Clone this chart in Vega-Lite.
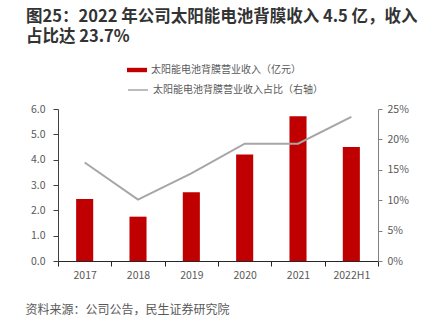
{
  "$schema": "https://vega.github.io/schema/vega-lite/v6.json",
  "width": 320,
  "height": 152,
  "autosize": {"type": "none"},
  "padding": {"left": 58, "top": 109, "right": 59, "bottom": 72},
  "background": "white",
  "config": {
    "view": {"stroke": null},
    "font": "Noto Sans CJK SC",
    "axis": {"labelFont": "Noto Sans CJK SC", "labelColor": "#595959", "labelFontSize": 10.5, "grid": false}
  },
  "title": {
    "text": ["图25：2022 年公司太阳能电池背膜收入 4.5 亿，收入", "占比达 23.7%"],
    "anchor": "start",
    "frame": "group",
    "dx": -32,
    "fontSize": 16.5,
    "lineHeight": 20,
    "fontWeight": "bold",
    "color": "#333333",
    "font": "Noto Sans CJK SC",
    "baseline": "top",
    "offset": 15
  },
  "data": {
    "values": [
      {"year": "2017", "revenue": 2.45, "share": 16.2},
      {"year": "2018", "revenue": 1.75, "share": 10.1},
      {"year": "2019", "revenue": 2.71, "share": 14.4},
      {"year": "2020", "revenue": 4.2, "share": 19.3},
      {"year": "2021", "revenue": 5.71, "share": 19.3},
      {"year": "2022H1", "revenue": 4.5, "share": 23.7}
    ]
  },
  "encoding": {
    "x": {
      "field": "year",
      "type": "ordinal",
      "sort": null,
      "scale": {"paddingInner": 0, "paddingOuter": 0},
      "axis": {
        "labelAngle": 0,
        "title": "资料来源：公司公告，民生证券研究院",
        "titleFont": "Noto Sans CJK SC",
        "titleFontSize": 12,
        "titleFontWeight": "normal",
        "titleColor": "#595959",
        "titleAnchor": "start",
        "titleAlign": "left",
        "titleBaseline": "middle",
        "titleX": -33,
        "titleY": 48,
        "tickBand": "extent",
        "domainColor": "#262626",
        "tickColor": "#262626",
        "tickSize": 5,
        "labelPadding": 4
      }
    }
  },
  "layer": [
    {
      "mark": {"type": "bar", "width": {"band": 0.32}, "color": "#C00000"},
      "encoding": {
        "y": {
          "field": "revenue",
          "type": "quantitative",
          "scale": {"domain": [0, 6]},
          "axis": {
            "title": null,
            "orient": "left",
            "values": [0, 1, 2, 3, 4, 5, 6],
            "format": ".1f",
            "domainColor": "#404040",
            "tickColor": "#404040",
            "tickSize": 5,
            "labelPadding": 8
          }
        },
        "color": {
          "datum": "太阳能电池背膜营业收入（亿元）",
          "scale": {"range": ["#C00000"]},
          "legend": {
            "orient": "none",
            "legendX": 69,
            "legendY": -49,
            "title": null,
            "symbolType": "M-1,-0.22H1V0.22H-1Z",
            "symbolSize": 400,
            "symbolStrokeWidth": 0,
            "labelFontSize": 10,
            "labelColor": "#595959",
            "labelFont": "Noto Sans CJK SC",
            "labelOffset": 4,
            "labelLimit": 400,
            "padding": 0
          }
        }
      }
    },
    {
      "mark": {"type": "line", "color": "#A6A6A6", "strokeWidth": 2},
      "encoding": {
        "y": {
          "field": "share",
          "type": "quantitative",
          "scale": {"domain": [0, 25]},
          "axis": {
            "title": null,
            "orient": "right",
            "values": [0, 5, 10, 15, 20, 25],
            "labelExpr": "datum.value + '%'",
            "domainColor": "#808080",
            "tickColor": "#808080",
            "tickSize": 4,
            "labelPadding": 5
          }
        },
        "stroke": {
          "datum": "太阳能电池背膜营业收入占比（右轴）",
          "scale": {"range": ["#A6A6A6"]},
          "legend": {
            "orient": "none",
            "legendX": 69,
            "legendY": -30,
            "title": null,
            "symbolType": "stroke",
            "symbolSize": 400,
            "symbolStrokeWidth": 1.5,
            "labelFontSize": 10,
            "labelColor": "#595959",
            "labelFont": "Noto Sans CJK SC",
            "labelOffset": 4,
            "labelLimit": 400,
            "padding": 0
          }
        }
      }
    }
  ],
  "resolve": {"scale": {"y": "independent", "color": "independent", "stroke": "independent"}, "legend": {"color": "independent", "stroke": "independent"}}
}
